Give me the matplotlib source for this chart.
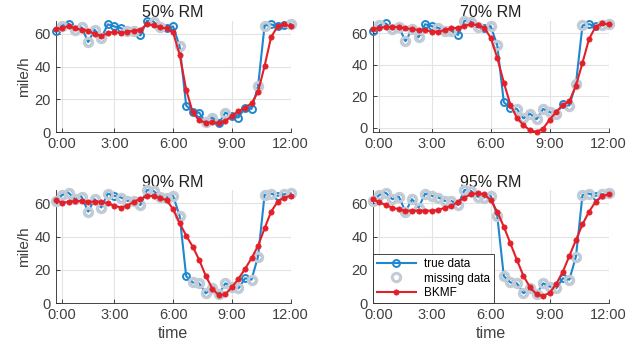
import numpy as np
import matplotlib.pyplot as plt

plt.rcParams['font.family'] = ['Liberation Sans', 'DejaVu Sans']

# time index: 37 samples, 20-min steps
idx = np.arange(37)
tick_pos = [1, 9, 18, 27, 36]
tick_lab = ['0:00', '3:00', '6:00', '9:00', '12:00']

true_speed = [61.5, 65, 66.3, 62.5, 64, 55, 62.5, 57.5, 65.8, 64.5,
              63.5, 61.5, 61.5, 59, 68, 67.5, 64, 63.5, 64.5, 52.5,
              16.3, 12.5, 12, 6, 9, 5.5, 12, 10, 9, 15,
              14.2, 28, 65, 65.8, 64.5, 65.5, 66]

bkmf_50 = [62.9, 63.3, 64.9, 63.3, 62.5, 61.9, 59.8, 58.8, 60.4, 61.3,
           60.4, 61.3, 61.9, 62.5, 65.9, 65.3, 63.9, 63.3, 60.9, 47.3,
           26, 12.2, 7.2, 5.9, 6, 5.9, 7, 9.9, 12.9, 15,
           17.6, 24.6, 40.4, 58, 64.6, 65.7, 64.6]
bkmf_70 = [62.7, 63.6, 64, 64, 64, 63.1, 62.7, 62.1, 62.1, 61,
           61, 62.1, 63.1, 63.6, 64.8, 65.7, 65.3, 63.6, 57.2, 44.5,
           28.8, 14.8, 6.4, 1.7, -1.5, -2.5, -0.4, 5.3, 10.2, 14.4,
           17, 26.7, 41.3, 56.4, 64.2, 66.3, 65.7]
bkmf_90 = [61.8, 60.5, 60.8, 61.5, 61.3, 61, 61, 61, 60, 58.6,
           57.5, 58.6, 61, 62.7, 64.4, 64.4, 63.2, 62, 56.5, 48,
           40.7, 34, 26, 16.5, 8.8, 4.8, 5.5, 9.6, 14.7, 20.6,
           27, 34.5, 45, 55, 61, 63.5, 64.5]
bkmf_95 = [62.6, 60.6, 59, 57.4, 56.4, 55.6, 55.6, 55.6, 55.6, 55.6,
           56, 57.4, 58.4, 61, 63.4, 65.6, 66, 65.4, 62, 55,
           46, 36, 26, 16.4, 9.6, 5.4, 4.4, 6.4, 11.6, 19,
           28.4, 38, 47.4, 55, 61, 64.4, 65.4]

# indices of observed (not missing) samples
obs_50 = [0, 2, 8, 9, 10, 13, 14, 17, 18, 20, 21, 22, 25, 27, 28, 29, 30, 33, 34, 35]
obs_70 = [0, 2, 8, 9, 13, 17, 20, 21, 29, 33, 34]
obs_90 = [9, 20, 29, 34]
obs_95 = [29, 34]

titles = ['50% RM', '70% RM', '90% RM', '95% RM']
bkmf_all = [bkmf_50, bkmf_70, bkmf_90, bkmf_95]
obs_all = [obs_50, obs_70, obs_90, obs_95]
ylims = [(0, 68), (-2.8, 68), (0, 68), (0, 68)]

BLUE = '#1f86d0'
RED = '#e3202a'
GREY = '#c3ccd5'

fig = plt.figure(figsize=(6.44, 3.47), dpi=100)
rects = [[0.0862, 0.6187, 0.3652, 0.3216],
         [0.5787, 0.6187, 0.3665, 0.3216],
         [0.0862, 0.1259, 0.3652, 0.3265],
         [0.5787, 0.1259, 0.3665, 0.3265]]

true_arr = np.array(true_speed)
for k in range(4):
    ax = fig.add_axes(rects[k])
    miss = np.setdiff1d(idx, obs_all[k])
    ax.plot(idx, true_arr, '-o', color=BLUE, lw=1.5, ms=5, mew=1.4,
            mfc='none', clip_on=False, zorder=3, label='true data')
    ax.plot(miss, true_arr[miss], 'o', ms=6, mew=2.2, mec=GREY, mfc='none',
            clip_on=False, zorder=4, label='missing data')
    ax.plot(idx, bkmf_all[k], '-o', color=RED, lw=1.5, ms=3.8, mew=0.5,
            clip_on=False, zorder=5, label='BKMF')

    ax.set_xlim(0, 36)
    ax.set_ylim(*ylims[k])
    ax.set_xticks(tick_pos)
    ax.set_xticklabels(tick_lab)
    ax.set_yticks([0, 20, 40, 60])
    ax.grid(True, color='#e3e3e3', lw=0.8)
    ax.set_axisbelow(True)
    for s in ['top', 'right']:
        ax.spines[s].set_visible(False)
    for s in ['left', 'bottom']:
        ax.spines[s].set_color('#262626')
        ax.spines[s].set_linewidth(0.6)
    ax.tick_params(direction='in', length=3, width=0.6, colors='#262626',
                   labelsize=10.5, labelcolor='#404040', pad=3.6)
    ax.set_title(titles[k], fontsize=11.5, pad=2.5, color='#202020')
    if k % 2 == 0:
        ax.set_ylabel('mile/h', fontsize=11, color='#404040', labelpad=2)
    if k >= 2:
        ax.set_xlabel('time', fontsize=11.5, color='#404040', labelpad=3)
    if k == 3:
        leg = ax.legend(loc='lower left', borderaxespad=0, fontsize=8.5,
                        handlelength=3.3, labelspacing=0.22, fancybox=False,
                        borderpad=0.35, handletextpad=0.7, framealpha=1)
        leg.get_frame().set_edgecolor('#262626')
        leg.get_frame().set_linewidth(0.6)
        leg.set_zorder(10)

fig.savefig('out.png', dpi=100)
